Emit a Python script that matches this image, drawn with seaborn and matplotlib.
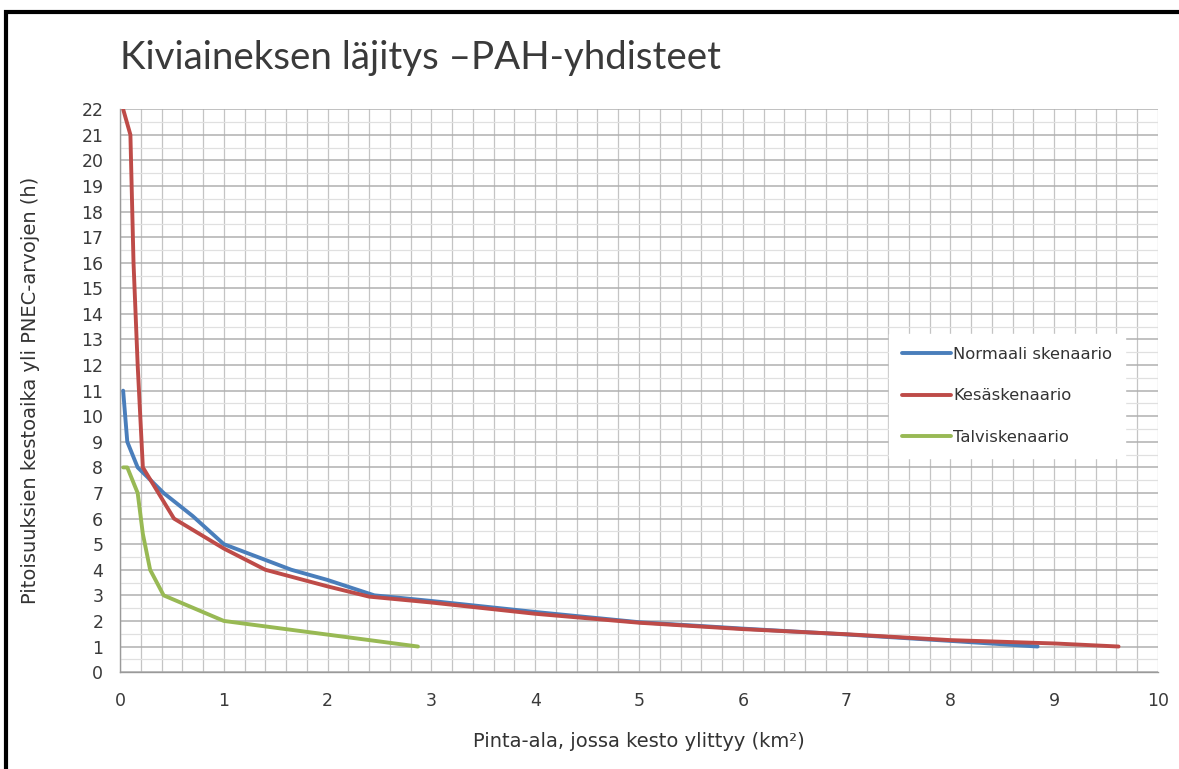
import numpy as np
import pandas as pd
import matplotlib
matplotlib.use("Agg")
import matplotlib.pyplot as plt
import seaborn as sns
from matplotlib.patches import Rectangle
from matplotlib.ticker import MultipleLocator

# data
normaali_x = [0.03, 0.07, 0.17, 0.42, 0.7, 1.0, 1.65, 2.0, 2.45, 3.0, 4.0, 5.0, 6.0, 7.0, 8.0, 8.84]
normaali_y = [11, 9, 8, 7, 6.1, 5, 4, 3.6, 3.0, 2.78, 2.35, 1.95, 1.7, 1.47, 1.22, 1.0]

kesa_x = [0.03, 0.1, 0.13, 0.17, 0.22, 0.52, 1.0, 1.4, 2.0, 2.4, 3.0, 4.0, 5.0, 6.0, 7.0, 8.0, 9.0, 9.62]
kesa_y = [22, 21, 16, 12, 8, 6, 4.83, 4, 3.35, 2.95, 2.72, 2.28, 1.93, 1.68, 1.48, 1.25, 1.12, 1.0]

talvi_x = [0.03, 0.07, 0.17, 0.22, 0.29, 0.42, 1.0, 2.87]
talvi_y = [8, 8, 7, 5.4, 4, 3, 2, 1]

series_names = ["Normaali skenaario", "Kesäskenaario", "Talviskenaario"]
series_colors = ["#4a7ebb", "#be4b48", "#98b954"]

x_ticks = list(range(0, 11))
y_ticks = list(range(0, 23))

df = pd.concat([
    pd.DataFrame({"x": normaali_x, "y": normaali_y, "s": series_names[0]}),
    pd.DataFrame({"x": kesa_x, "y": kesa_y, "s": series_names[1]}),
    pd.DataFrame({"x": talvi_x, "y": talvi_y, "s": series_names[2]}),
])

sns.set_theme(style="white")
plt.rcParams["font.family"] = ["DejaVu Sans"]

fig = plt.figure(figsize=(11.79, 7.69), dpi=100)
ax = fig.add_axes([0.1018, 0.126, 0.8804, 0.732])

sns.lineplot(data=df, x="x", y="y", hue="s", palette=series_colors,
             sort=False, estimator=None, linewidth=2.8, ax=ax)

ax.set_xlim(0, 10)
ax.set_ylim(0, 22)
ax.set_xticks(x_ticks)
ax.set_yticks(y_ticks)
ax.xaxis.set_minor_locator(MultipleLocator(0.2))
ax.yaxis.set_minor_locator(MultipleLocator(0.5))
ax.grid(which="major", axis="y", color="#b0b0b0", linewidth=1.1)
ax.grid(which="minor", axis="y", color="#e0e0e0", linewidth=0.9)
ax.grid(which="both", axis="x", color="#c4c4c4", linewidth=0.9)
ax.set_axisbelow(True)

for s in ["top", "right"]:
    ax.spines[s].set_visible(False)
for s in ["left", "bottom"]:
    ax.spines[s].set_color("#9a9a9a")
    ax.spines[s].set_linewidth(1.0)

ax.tick_params(axis="both", which="major", labelsize=12.5, labelcolor="#3a3a3a",
               direction="out", length=5, color="#9a9a9a", width=1)
ax.tick_params(axis="x", which="major", pad=9)
ax.tick_params(axis="y", which="major", pad=7)
ax.tick_params(axis="both", which="minor", length=0)

ax.set_xlabel("Pinta-ala, jossa kesto ylittyy (km²)", fontsize=14, color="#333333", labelpad=16)
ax.set_ylabel("Pitoisuuksien kestoaika yli PNEC-arvojen (h)", fontsize=14, color="#333333", labelpad=30)

leg = ax.legend(loc="upper left", bbox_to_anchor=(0.733, 0.615), frameon=True,
                fontsize=11.8, labelspacing=1.6, handlelength=3.0, handletextpad=0.1,
                borderpad=0.8, fancybox=False)
leg.get_frame().set_facecolor("white")
leg.get_frame().set_edgecolor("white")
leg.get_frame().set_alpha(1)
for t in leg.get_texts():
    t.set_color("#333333")

fig.text(0.102, 0.925, "Kiviaineksen läjitys –PAH-yhdisteet", fontsize=27.7,
         family="Lato", color="#3a3a3a", va="center", ha="left")

fig.patches.append(Rectangle((0.005, -0.1), 1.1, 1.085, transform=fig.transFigure,
                             fill=False, edgecolor="black", linewidth=3))

fig.savefig("out.png", dpi=100)
